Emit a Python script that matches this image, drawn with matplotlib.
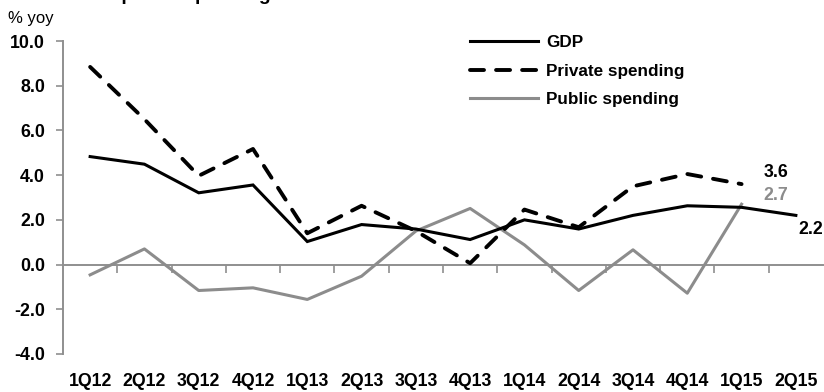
import matplotlib
matplotlib.use("Agg")
import matplotlib.pyplot as plt
import numpy as np

plt.rcParams['font.family'] = ['Liberation Sans', 'DejaVu Sans']

quarters = ["1Q12", "2Q12", "3Q12", "4Q12", "1Q13", "2Q13", "3Q13",
            "4Q13", "1Q14", "2Q14", "3Q14", "4Q14", "1Q15", "2Q15"]
gdp = [4.83, 4.49, 3.21, 3.56, 1.03, 1.79, 1.59, 1.12, 2.0, 1.59, 2.2, 2.63, 2.56, 2.2]
private_spending = [8.84, 6.5, 3.97, 5.17, 1.4, 2.63, 1.5, 0.06, 2.46, 1.67, 3.5, 4.05, 3.6]
public_spending = [-0.46, 0.70, -1.16, -1.04, -1.56, -0.52, 1.5, 2.51, 0.88, -1.16, 0.66, -1.28, 2.7]
y_ticks = [-4.0, -2.0, 0.0, 2.0, 4.0, 6.0, 8.0, 10.0]

GREY = "#8c8c8c"
AXIS_GREY = "#8f8f8f"
TICK_SIZE = 12.8

fig = plt.figure(figsize=(8.24, 3.92), dpi=100)
ax = fig.add_axes([63 / 824, 1 - 354 / 392, 760 / 824, 313 / 392])

x = np.arange(len(quarters))
ax.plot(x, gdp, color="black", lw=2.2, solid_joinstyle="miter", label="GDP", zorder=3)
ax.plot(x[:len(private_spending)], private_spending, color="black", lw=2.8,
        dashes=(3.6, 3.1), dash_capstyle="round", label="Private spending", zorder=3)
ax.plot(x[:len(public_spending)], public_spending, color=GREY, lw=2.2,
        label="Public spending", zorder=2)

ax.set_xlim(-0.5, len(quarters) - 0.5)
ax.set_ylim(-4, 10)

# y axis
ax.set_yticks(y_ticks)
ax.set_yticklabels([f"{v:.1f}" for v in y_ticks], fontsize=TICK_SIZE, fontweight="bold")
ax.tick_params(axis="y", direction="out", length=5, width=1.2, color=AXIS_GREY, pad=8)
for side in ("top", "right", "bottom"):
    ax.spines[side].set_visible(False)
ax.spines["left"].set_color(AXIS_GREY)
ax.spines["left"].set_linewidth(1.4)

# category labels along the bottom
ax.set_xticks(x)
ax.set_xticklabels(quarters, fontsize=TICK_SIZE, fontweight="bold")
ax.tick_params(axis="x", length=0, pad=14)

# zero line with category separators
zero_frac = (0 - (-4)) / 14
sec = ax.secondary_xaxis(zero_frac)
sec.set_xticks(np.arange(0.5, len(quarters) - 0.5, 1.0))
sec.set_xticklabels([])
sec.tick_params(axis="x", direction="out", length=6, width=1.2, color=AXIS_GREY)
sec.spines["bottom"].set_color(AXIS_GREY)
sec.spines["bottom"].set_linewidth(1.4)

# end-point value labels
ax.annotate(f"{private_spending[-1]:.1f}", (x[len(private_spending) - 1], private_spending[-1]),
            xytext=(24.5, 8), textcoords="offset points", ha="center", va="center",
            fontsize=TICK_SIZE, fontweight="bold", color="black")
ax.annotate(f"{public_spending[-1]:.1f}", (x[len(public_spending) - 1], public_spending[-1]),
            xytext=(24.5, 6), textcoords="offset points", ha="center", va="center",
            fontsize=TICK_SIZE, fontweight="bold", color=GREY)
ax.annotate(f"{gdp[-1]:.1f}", (x[-1], gdp[-1]),
            xytext=(11, -10), textcoords="offset points", ha="center", va="center",
            fontsize=TICK_SIZE, fontweight="bold", color="black")

leg = ax.legend(loc="upper left", bbox_to_anchor=(470 / 824, 1 - 35 / 392),
                bbox_transform=fig.transFigure, frameon=False,
                prop={"size": 12.3, "weight": "bold"}, handlelength=4.0,
                handletextpad=0.45, labelspacing=0.8, borderaxespad=0, borderpad=0)

fig.text(8 / 824, 1 - 18 / 392, "% yoy", fontsize=12, va="center", ha="left")
fig.text(11 / 824, 1.0, "Private and public spending", fontsize=14,
         fontweight="bold", va="baseline", ha="left")

fig.savefig("out.png", dpi=100)
